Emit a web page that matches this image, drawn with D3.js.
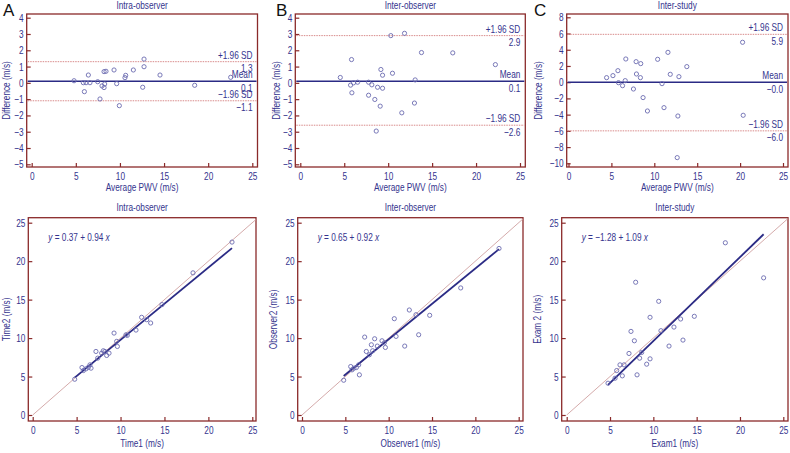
<!DOCTYPE html>
<html>
<head>
<meta charset="utf-8">
<script src="https://cdn.jsdelivr.net/npm/d3@7"></script>
<style>
  body { margin: 0; background: #fff; }
  svg text { font-family: "Liberation Sans", Arial, sans-serif; }
</style>
</head>
<body>
<svg id="chart" width="790" height="453"></svg>
<script>

// ---- data ----

// Bland-Altman: [average, difference]
var baIntra = [[4.8,0.13],[5.97,-0.54],[5.85,0.01],[6.16,0.01],[6.42,0.48],[6.6,0.01],[7.48,0.07],[7.74,-0.99],
  [7.97,-0.19],[8.2,-0.29],[8.2,0.69],[8.42,0.71],[8.27,-0.07],[9.33,0.79],[9.63,-0.05],[9.93,-1.4],[10.57,0.32],
  [10.65,0.46],[11.52,0.79],[12.58,-0.27],[12.73,1.46],[12.73,0.99],[14.54,0.48],[18.47,-0.15],[22.55,0.34]]
var baInterObs = [[4.55,0.33],[5.83,1.43],[5.72,-0.14],[5.87,-0.61],[6.06,0.0],[6.52,0.04],[7.77,0.04],[7.77,-0.76],
  [8.14,-0.12],[8.48,-1.02],[8.64,-2.96],[8.79,-0.27],[9.09,-1.43],[9.17,0.82],[9.36,0.47],[9.36,-0.33],[10.3,2.9],
  [10.49,0.59],[11.55,-1.84],[11.86,3.04],[12.99,-1.24],[13.07,0.18],[13.79,1.86],[17.35,1.84],[22.2,1.12]]
var baInterStudy = [[4.44,0.56],[5.18,0.81],[5.76,1.42],[5.83,-0.06],[6.3,-0.43],[6.61,0.19],[6.68,2.86],[7.57,-0.84],
  [7.88,2.53],[7.92,1.01],[8.42,2.29],[8.38,0.56],[8.69,-1.9],[9.2,-3.55],[10.39,2.82],[10.9,-0.18],[11.13,-3.14],
  [11.59,3.68],[11.86,0.97],[12.67,-9.3],[12.75,-4.17],[12.87,0.68],[13.79,1.92],[20.29,4.92],[20.36,-4.08]]

// limits of agreement: [upper, mean, lower]
var limIntra = [1.3, 0.1, -1.1]
var limInterObs = [2.9, 0.1, -2.6]
var limInterStudy = [5.9, -0.0, -6.0]

// scatter: [first, second]
var scIntra = [[4.78,4.65],[5.61,6.17],[5.77,5.78],[6.07,6.0],[6.34,6.2],[6.52,6.52],[6.64,6.09],[7.2,8.26],[7.4,7.39],
  [7.85,8.04],[8.04,8.35],[8.23,8.26],[8.42,7.74],[8.69,8.04],[9.26,10.65],[9.56,9.57],[9.64,8.91],[10.62,10.43],
  [10.77,10.35],[11.76,11.04],[12.4,12.7],[12.98,12.39],[13.43,11.96],[14.72,14.35],[18.25,18.48],[22.69,22.48]]
var scInterObs = [[4.81,4.52],[5.62,6.3],[5.77,5.87],[6.0,6.09],[6.27,6.17],[6.54,6.52],[6.62,5.22],[7.23,10.13],
  [7.42,8.26],[7.77,7.83],[8.0,9.13],[8.15,8.35],[8.38,9.91],[8.69,8.96],[9.23,9.65],[9.5,9.39],[9.62,8.78],
  [10.65,12.52],[10.85,10.22],[11.85,8.96],[12.38,13.65],[13.15,13.04],[13.46,10.43],[14.73,12.96],[18.31,16.52],[22.73,21.65]]
var scInterStudy = [[4.77,4.13],[5.58,4.78],[5.77,5.78],[6.15,6.52],[6.42,5.09],[6.62,6.52],[7.19,8.0],[7.42,10.87],
  [7.81,9.65],[7.96,17.26],[8.12,5.22],[8.42,7.39],[8.65,8.13],[9.23,6.61],[9.62,12.7],[9.62,7.3],[10.62,14.78],
  [10.88,10.96],[11.81,8.96],[12.38,11.43],[13.15,12.48],[13.42,9.74],[14.73,12.83],[18.31,22.39],[22.73,17.83]]

// regression: [intercept, slope]
var regIntra = [0.37, 0.94]
var regInterObs = [0.65, 0.92]
var regInterStudy = [-1.28, 1.09]

var titles = ["Intra-observer", "Inter-observer", "Inter-study"]
var letters = ["A", "B", "C"]
var scXLabels = ["Time1 (m/s)", "Observer1 (m/s)", "Exam1 (m/s)"]
var scYLabels = ["Time2 (m/s)", "Observer2 (m/s)", "Exam 2 (m/s)"]
var xTicks = [0, 5, 10, 15, 20, 25]
var baYTicks = [d3.range(-5, 5, 1), d3.range(-5, 5, 1), d3.range(-10, 9, 2)]

var navy = "#34348e", frameCol = "#8a2a2a", dotCol = "#6b6bb0", sdCol = "#d88a8a", idCol = "#cfa0a0"
var SX = 0.75, FS = "11px"

var svg = d3.select("#chart")
var fmt = d3.format(".1f")
function num(v) { return (v < 0 ? "\u2212" : "") + Math.abs(v) }
function num1(v) { return (v < 0 || Object.is(v, -0) ? "\u2212" : "") + fmt(Math.abs(v)) }

// narrow text: the figure uses a condensed face
function label(g, x, y, s, anchor, rot) {
  return g.append("text")
    .attr("transform", "translate(" + x + "," + y + ")" + (rot ? "rotate(-90)" : "") + "scale(" + SX + ",1)")
    .attr("text-anchor", anchor || "start")
    .attr("fill", navy).style("font-size", FS)
    .text(s)
}

// frame + axes shared by all panels
function frameAxes(g, box, x, y, yTicks) {
  g.append("rect")
    .attr("x", box.l).attr("y", box.t)
    .attr("width", box.r - box.l).attr("height", box.b - box.t)
    .attr("fill", "none").attr("stroke", frameCol).attr("stroke-width", 1.3)

  var ax = g.append("g")
    .attr("transform", "translate(0," + box.b + ")")
    .call(d3.axisBottom(x).tickValues(xTicks).tickSizeInner(-4).tickSizeOuter(0).tickPadding(5).tickFormat(num))
  var ay = g.append("g")
    .attr("transform", "translate(" + box.l + ",0)")
    .call(d3.axisLeft(y).tickValues(yTicks).tickSizeInner(-4).tickSizeOuter(0).tickPadding(4).tickFormat(num))
  ;[ax, ay].forEach(function(a) {
    a.select(".domain").remove()
    a.selectAll("line").attr("stroke", frameCol).attr("stroke-width", 1.2)
    a.selectAll("text").attr("fill", navy).style("font-size", FS)
      .attr("transform", "scale(" + SX + ",1)")
  })
}

// ---- top row: Bland-Altman ----
var topBoxes = [
  {l: 26.7, r: 257.5, t: 14, b: 167, x0: 31.7, x1: 252.3, y0: 164.3, y1: 17.7, lx: 10},
  {l: 295.3, r: 525.3, t: 14, b: 167, x0: 300.3, x1: 520, y0: 164.3, y1: 17.7, lx: 279.5},
  {l: 566.7, r: 788, t: 14, b: 167, x0: 568.5, x1: 783, y0: 163.3, y1: 17.3, lx: 542}
]
var baData = [baIntra, baInterObs, baInterStudy]
var baLims = [limIntra, limInterObs, limInterStudy]

topBoxes.forEach(function(box, i) {
  var yTicks = baYTicks[i]
  var x = d3.scaleLinear().domain([0, 25]).range([box.x0, box.x1])
  var y = d3.scaleLinear().domain([yTicks[0], yTicks[yTicks.length - 1]]).range([box.y0, box.y1])
  var g = svg.append("g")
  var cx = (box.l + box.r) / 2

  label(g, cx, 9, titles[i], "middle")

  frameAxes(g, box, x, y, yTicks)

  var lim = baLims[i]
  var names = ["+1.96 SD", "Mean", "\u22121.96 SD"]
  lim.forEach(function(v, k) {
    g.append("line")
      .attr("x1", box.l + 1).attr("x2", box.r - 1)
      .attr("y1", y(v)).attr("y2", y(v))
      .attr("stroke", k == 1 ? "#2b2b85" : sdCol)
      .attr("stroke-width", k == 1 ? 1.6 : 1)
      .attr("stroke-dasharray", k == 1 ? null : "1.5,1")
    label(g, box.r - 5, y(v) - 3, names[k], "end")
    label(g, box.r - 5, y(v) + 10.5, num1(v), "end")
  })

  g.selectAll("circle.pt").data(baData[i]).enter().append("circle")
    .attr("class", "pt")
    .attr("cx", function(d) { return x(d[0]) })
    .attr("cy", function(d) { return y(d[1]) })
    .attr("r", 2.1)
    .attr("fill", "none").attr("stroke", dotCol).attr("stroke-width", 0.9)

  label(g, cx, 191, "Average PWV (m/s)", "middle")
  label(g, box.lx, (box.t + box.b) / 2, "Difference (m/s)", "middle", true)
})

// panel letters
var letterX = [3, 276, 534]
letters.forEach(function(s, i) {
  svg.append("text").attr("x", letterX[i]).attr("y", 15.5)
    .attr("fill", "#111").style("font-size", "17px").text(s)
})

// ---- bottom row: scatter with regression ----
var botBoxes = [
  {l: 28.3, r: 256, t: 217.7, b: 421, x0: 32.7, x1: 252.3, y0: 415, y1: 222.7, lx: 9.5},
  {l: 297.7, r: 523, t: 217.7, b: 421, x0: 302, x1: 518.7, y0: 415, y1: 222.7, lx: 276.5},
  {l: 561.7, r: 788, t: 217.7, b: 421, x0: 566.7, x1: 783.3, y0: 415, y1: 222.7, lx: 541}
]
var scData = [scIntra, scInterObs, scInterStudy]
var regs = [regIntra, regInterObs, regInterStudy]

botBoxes.forEach(function(box, i) {
  var x = d3.scaleLinear().domain([0, 25]).range([box.x0, box.x1])
  var y = d3.scaleLinear().domain([0, 25]).range([box.y0, box.y1])
  var g = svg.append("g")
  var cx = (box.l + box.r) / 2

  label(g, cx, 211, titles[i], "middle")

  frameAxes(g, box, x, y, xTicks)

  // line of identity, up to the top-right corner of the frame
  var top = Math.min(x.invert(box.r), y.invert(box.t))
  g.append("line")
    .attr("x1", x(0)).attr("y1", y(0)).attr("x2", x(top)).attr("y2", y(top))
    .attr("stroke", idCol).attr("stroke-width", 0.9)

  var pts = scData[i]
  var ext = d3.extent(pts, function(d) { return d[0] })
  var r = regs[i]
  g.append("line")
    .attr("x1", x(ext[0])).attr("y1", y(r[0] + r[1] * ext[0]))
    .attr("x2", x(ext[1])).attr("y2", y(r[0] + r[1] * ext[1]))
    .attr("stroke", "#2b2b85").attr("stroke-width", 1.8)

  g.selectAll("circle.pt").data(pts).enter().append("circle")
    .attr("class", "pt")
    .attr("cx", function(d) { return x(d[0]) })
    .attr("cy", function(d) { return y(d[1]) })
    .attr("r", 2.1)
    .attr("fill", "none").attr("stroke", dotCol).attr("stroke-width", 0.9)

  var eq = label(g, box.l + 20, 241, "")
  eq.append("tspan").style("font-style", "italic").text("y")
  eq.append("tspan").text(" = " + (r[0] < 0 ? "\u2212" : "") + Math.abs(r[0]).toFixed(2) + " +  " + r[1].toFixed(2) + " ")
  eq.append("tspan").style("font-style", "italic").text("x")

  label(g, cx, 447, scXLabels[i], "middle")
  label(g, box.lx, (box.t + box.b) / 2, scYLabels[i], "middle", true)
})
</script>
</body>
</html>
